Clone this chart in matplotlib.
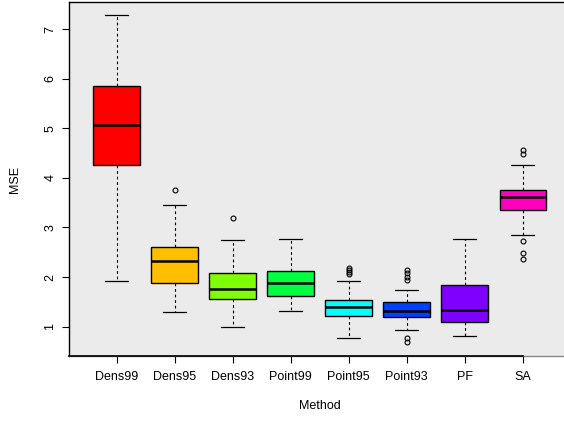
import matplotlib
matplotlib.use("Agg")
import matplotlib.pyplot as plt

methods = ["Dens99", "Dens95", "Dens93", "Point99", "Point95", "Point93", "PF", "SA"]
colors = ["#FF0000", "#FFBF00", "#80FF00", "#00FF40", "#00FFFF", "#0040FF", "#8000FF", "#FF00BF"]
whislo = [1.92, 1.30, 0.99, 1.31, 0.77, 0.93, 0.80, 2.84]
q1 = [4.27, 1.87, 1.56, 1.62, 1.22, 1.19, 1.10, 3.35]
med = [5.07, 2.33, 1.75, 1.88, 1.40, 1.32, 1.34, 3.61]
q3 = [5.86, 2.60, 2.09, 2.13, 1.53, 1.49, 1.83, 3.76]
whishi = [7.28, 3.46, 2.75, 2.77, 1.92, 1.74, 2.76, 4.27]
fliers = [
    [],
    [3.75],
    [3.20],
    [],
    [2.19, 2.14, 2.10, 2.06],
    [2.14, 2.09, 2.01, 1.94, 0.76, 0.68],
    [],
    [4.57, 4.49, 2.72, 2.49, 2.36],
]
yticks = [1, 2, 3, 4, 5, 6, 7]

plt.rcParams['font.family'] = ['Liberation Sans', 'DejaVu Sans']

W, H = 564, 421
fig = plt.figure(figsize=(W / 100, H / 100), dpi=100)
left, right, bottom, top = 69, 570.3, 356, 2.3
ax = fig.add_axes([left / W, (H - bottom) / H, (right - left) / W, (bottom - top) / H])
ax.set_facecolor("#EBEBEB")

stats = []
for i in range(len(methods)):
    stats.append(dict(label=methods[i], med=med[i], q1=q1[i], q3=q3[i],
                      whislo=whislo[i], whishi=whishi[i], fliers=fliers[i]))

bp = ax.bxp(stats, positions=range(1, len(methods) + 1), widths=0.8,
            patch_artist=True, showfliers=True, capwidths=0.4,
            boxprops=dict(edgecolor="black", linewidth=1.0),
            medianprops=dict(color="black", linewidth=1.8, solid_capstyle="butt"),
            whiskerprops=dict(color="black", linewidth=0.8, linestyle=(0, (2.5, 2.5))),
            capprops=dict(color="black", linewidth=0.9),
            flierprops=dict(marker="o", markersize=3.5, markerfacecolor="none",
                            markeredgecolor="black", markeredgewidth=0.8))
for patch, c in zip(bp["boxes"], colors):
    patch.set_facecolor(c)

ax.set_xlim(0.18, 8.82)
ax.set_ylim(0.406, 7.544)
ax.set_yticks(yticks)
ax.set_yticklabels([str(v) for v in yticks], rotation=90, va="center")
ax.set_xticks(range(1, len(methods) + 1))
ax.set_xticklabels(methods)
ax.tick_params(axis="both", length=5, width=0.8, labelsize=9, color="black")
ax.tick_params(axis="x", pad=6)
ax.tick_params(axis="y", pad=4)

for s in ["left", "top", "right"]:
    ax.spines[s].set_color("black")
    ax.spines[s].set_linewidth(1.0)
ax.spines["bottom"].set_color("#888888")
ax.spines["bottom"].set_linewidth(1.0)
ax.plot([0.18, 8], [0.406, 0.406], color="black", linewidth=1.2, clip_on=False, zorder=5)

ax.set_ylabel("MSE", fontsize=9, labelpad=17)
ax.set_xlabel("Method", fontsize=9, labelpad=12)

fig.savefig("out.png", dpi=100)
